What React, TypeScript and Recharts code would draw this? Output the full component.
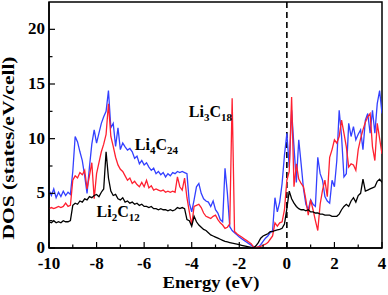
import React from "react";
import {
  LineChart,
  Line,
  XAxis,
  YAxis,
  ReferenceLine,
  ReferenceArea,
  ReferenceDot,
} from "recharts";

// energy grid (eV), 0.1 eV steps
const ENERGY = [
  -10.0, -9.9, -9.8, -9.7, -9.6, -9.5, -9.4, -9.3, -9.2, -9.1,
  -9.0, -8.9, -8.8, -8.7, -8.6, -8.5, -8.4, -8.3, -8.2, -8.1,
  -8.0, -7.9, -7.8, -7.7, -7.6, -7.5, -7.4, -7.3, -7.2, -7.1,
  -7.0, -6.9, -6.8, -6.7, -6.6, -6.5, -6.4, -6.3, -6.2, -6.1,
  -6.0, -5.9, -5.8, -5.7, -5.6, -5.5, -5.4, -5.3, -5.2, -5.1,
  -5.0, -4.9, -4.8, -4.7, -4.6, -4.5, -4.4, -4.3, -4.2, -4.1,
  -4.0, -3.9, -3.8, -3.7, -3.6, -3.5, -3.4, -3.3, -3.2, -3.1,
  -3.0, -2.9, -2.8, -2.7, -2.6, -2.5, -2.4, -2.3, -2.2, -2.1,
  -2.0, -1.9, -1.8, -1.7, -1.6, -1.5, -1.4, -1.3, -1.2, -1.1,
  -1.0, -0.9, -0.8, -0.7, -0.6, -0.5, -0.4, -0.3, -0.2, -0.1,
  0.0, 0.1, 0.2, 0.3, 0.4, 0.5, 0.6, 0.7, 0.8, 0.9,
  1.0, 1.1, 1.2, 1.3, 1.4, 1.5, 1.6, 1.7, 1.8, 1.9,
  2.0, 2.1, 2.2, 2.3, 2.4, 2.5, 2.6, 2.7, 2.8, 2.9,
  3.0, 3.1, 3.2, 3.3, 3.4, 3.5, 3.6, 3.7, 3.8, 3.9,
  4.0,
];

// Li2C12 (black)
const LI2C12 = [
  2.4, 2.3, 2.5, 2.3, 2.4, 2.3, 2.5, 2.4, 2.4, 2.5,
  3.9, 4.1, 4.0, 4.3, 4.2, 4.5, 4.4, 4.7, 4.6, 4.8,
  4.9, 4.7, 5.1, 5.4, 8.8, 6.4, 5.2, 4.8, 4.9, 4.5,
  4.4, 4.6, 4.2, 4.3, 4.1, 4.2, 4.0, 4.1, 3.9, 4.0,
  3.8, 3.8, 3.7, 3.8, 3.6, 3.6, 3.5, 3.6, 3.5, 3.5,
  3.4, 3.5, 3.4, 3.5, 3.7, 3.6, 3.7, 3.6, 2.6, 2.5,
  2.0, 2.9, 2.4, 2.1, 1.9, 1.7, 1.6, 1.4, 1.2, 1.1,
  1.0, 0.9, 0.8, 0.7, 0.6, 0.55, 0.5, 0.45, 0.4, 0.35,
  0.3, 0.25, 0.2, 0.15, 0.1, 0.05, 0.0, 0.2, 0.5, 0.9,
  1.1, 1.2, 1.3, 1.5, 1.5, 1.6, 1.65, 1.7, 1.8, 2.2,
  3.6, 5.2, 4.5, 4.1, 3.8, 3.6, 3.5, 3.5, 3.4, 3.5,
  3.3, 3.3, 3.2, 3.2, 3.1, 3.1, 3.0, 3.0, 3.0, 2.9,
  2.9, 2.9, 3.1, 3.5, 3.8, 4.0, 3.8, 4.3, 4.6, 4.2,
  4.8, 5.0, 6.3, 5.2, 5.3, 5.4, 5.5, 5.6, 6.1, 6.3,
  6.0,
];

// Li3C18 (red)
const LI3C18 = [
  3.6, 3.7, 3.6, 3.7, 3.8, 3.7, 3.8, 4.1, 3.8, 3.9,
  6.2, 6.6, 6.4, 6.9, 6.7, 7.1, 5.4, 6.6, 7.8, 4.5,
  6.8, 7.8, 8.8, 9.5, 10.4, 13.2, 10.2, 9.3, 8.3, 7.6,
  7.2, 7.0, 6.6, 6.2, 6.4, 5.9, 6.1, 5.8, 5.6, 6.0,
  5.6, 6.2, 5.5, 5.7, 5.3, 5.4, 5.3, 5.2, 5.3, 5.1,
  5.2, 5.1, 5.2, 5.1, 6.5, 5.6, 5.3, 6.4, 4.6, 3.3,
  2.1, 3.8, 3.9, 4.0, 3.7, 3.2, 2.9, 2.8, 2.7, 2.9,
  3.0, 2.6, 2.3, 2.1, 1.8, 1.9, 2.2, 13.7, 1.5, 1.3,
  1.15, 1.0, 0.85, 0.7, 0.55, 0.4, 0.1, 0.05, 0.1, 0.15,
  0.25, 0.35, 0.5, 0.8, 1.1, 2.3, 2.0, 2.3, 2.4, 3.5,
  6.2, 7.0, 13.8, 5.6, 7.7, 6.3, 5.9, 5.6, 4.4, 3.0,
  4.4, 3.5, 2.5, 1.6, 4.0, 5.3, 6.2, 4.7, 8.3, 9.0,
  9.9, 9.6, 10.2, 11.7, 10.5, 9.25, 7.4, 7.7, 7.6, 7.1,
  9.0, 10.0, 10.8, 11.5, 12.0, 12.3, 9.25, 8.0, 11.4, 10.0,
  8.6,
];

// Li4C24 (blue)
const LI4C24 = [
  5.3, 4.8, 5.4, 4.6, 5.1, 4.7, 5.2, 4.8, 5.1, 4.9,
  7.0, 10.2, 9.7, 8.8, 8.0, 6.6, 5.0, 7.4, 9.5, 10.8,
  9.6, 10.5, 11.4, 12.0, 12.5, 14.4, 11.0, 11.4, 9.3, 11.0,
  9.0, 9.6, 9.25, 8.95, 9.1, 8.8, 8.2, 8.4, 7.7, 8.0,
  7.6, 7.8, 7.4, 7.1, 7.3, 6.8, 7.0, 6.7, 6.9, 6.5,
  6.8, 6.6, 6.9, 6.8, 7.0, 6.9, 7.0, 6.9, 6.8, 4.1,
  3.3, 4.4, 5.6, 5.9, 5.0, 4.5, 4.3, 4.2, 3.8, 4.3,
  3.5, 3.2, 2.6, 2.4, 7.3, 5.0, 1.95, 1.6, 1.4, 1.2,
  1.0, 0.85, 0.7, 0.55, 0.4, 0.25, 0.1, 0.0, 0.1, 0.3,
  0.6, 0.9, 1.1, 1.4, 1.6, 4.6, 3.3, 4.2, 5.9, 8.5,
  10.5, 7.4, 12.6, 9.25, 6.0, 9.9, 7.7, 5.4, 4.0, 3.5,
  4.4, 4.0, 3.8, 8.3, 6.8, 6.2, 4.7, 4.3, 4.1, 6.2,
  5.6, 8.0, 12.6, 10.2, 6.5, 6.8, 11.4, 10.2, 11.1, 9.9,
  10.4, 10.8, 9.0, 11.7, 12.3, 10.5, 12.6, 10.5, 13.2, 14.4,
  12.3,
];

const X_TICKS = [-10, -9, -8, -7, -6, -5, -4, -3, -2, -1, 0, 1, 2, 3, 4];
const Y_TICKS = [0, 2.5, 5, 7.5, 10, 12.5, 15, 17.5, 20];

const TEXT_STYLE = {
  fontFamily: '"Liberation Serif", "Times New Roman", "DejaVu Serif", serif',
  fontWeight: 700,
};
const BLUE = "#3340ff";
const RED = "#ff2030";

const data = ENERGY.map((e, i) => ({
  energy: e,
  li2c12: LI2C12[i],
  li3c18: LI3C18[i],
  li4c24: LI4C24[i],
}));

function XTick({ x, y, payload }: any) {
  const major = payload.value % 2 === 0;
  return (
    <g>
      <line x1={x} x2={x} y1={y} y2={y - (major ? 6 : 3.5)} stroke="#000" strokeWidth={1.2} />
      {major && (
        <text x={x} y={y + 21} textAnchor="middle" style={{ ...TEXT_STYLE, fontSize: 17 }} fill="#000">
          {payload.value}
        </text>
      )}
    </g>
  );
}

function YTick({ x, y, payload }: any) {
  const major = payload.value % 5 === 0;
  return (
    <g>
      <line x1={x} x2={x + (major ? 6 : 3.5)} y1={y} y2={y} stroke="#000" strokeWidth={1.2} />
      {major && (
        <text x={x - 4} y={y + 5} textAnchor="end" style={{ ...TEXT_STYLE, fontSize: 17 }} fill="#000">
          {payload.value}
        </text>
      )}
    </g>
  );
}

// chemical formula label, e.g. Li4C24 with subscripts
function Formula({ viewBox, a, b }: any) {
  const { x, y } = viewBox;
  return (
    <text x={x} y={y} style={{ ...TEXT_STYLE, fontSize: 16 }} fill="#000">
      Li
      <tspan style={{ fontSize: 11 }} dy={4}>{a}</tspan>
      <tspan dy={-4}>C</tspan>
      <tspan style={{ fontSize: 11 }} dy={4}>{b}</tspan>
    </text>
  );
}

export default function App() {
  return (
    <div style={{ position: "absolute", left: 0, top: 0, background: "#fff" }}>
      <LineChart width={388} height={295} data={data} margin={{ top: 2, right: 6, left: 0, bottom: 0 }}>
        <XAxis
          dataKey="energy"
          type="number"
          domain={[-10, 4]}
          ticks={X_TICKS}
          interval={0}
          allowDataOverflow
          tickLine={false}
          tickSize={0}
          tickMargin={0}
          height={47}
          axisLine={{ stroke: "#000", strokeWidth: 1.5 }}
          tick={<XTick />}
          label={(p: any) => {
            const vb = p.viewBox;
            return (
              <text
                x={vb.x + vb.width / 2 - 4.5}
                y={vb.y + 39.5}
                textAnchor="middle"
                style={{ ...TEXT_STYLE, fontSize: 16 }}
                textLength={97}
                lengthAdjust="spacingAndGlyphs"
                fill="#000"
              >
                Energy (eV)
              </text>
            );
          }}
        />
        <YAxis
          type="number"
          domain={[0, 22.5]}
          ticks={Y_TICKS}
          interval={0}
          allowDataOverflow
          tickLine={false}
          tickSize={0}
          tickMargin={0}
          width={49}
          axisLine={{ stroke: "#000", strokeWidth: 1.5 }}
          tick={<YTick />}
          label={(p: any) => {
            const vb = p.viewBox;
            const cx = vb.x + 13.5;
            const cy = vb.y + vb.height / 2 + 23;
            return (
              <text
                x={cx}
                y={cy}
                transform={`rotate(-90, ${cx}, ${cy})`}
                textAnchor="middle"
                style={{ ...TEXT_STYLE, fontSize: 17 }}
                textLength={183}
                lengthAdjust="spacingAndGlyphs"
                fill="#000"
              >
                DOS (states/eV/cell)
              </text>
            );
          }}
        />
        <ReferenceArea x1={-10} x2={4} y1={0} y2={22.5} fill="none" stroke="#000" strokeWidth={1.5} />
        <ReferenceLine x={0} stroke="#000" strokeWidth={1.6} strokeDasharray="6 4" />
        <Line dataKey="li4c24" stroke={BLUE} strokeWidth={1.3} dot={false} isAnimationActive={false} />
        <Line dataKey="li3c18" stroke={RED} strokeWidth={1.3} dot={false} isAnimationActive={false} />
        <Line dataKey="li2c12" stroke="#000" strokeWidth={1.3} dot={false} isAnimationActive={false} />
        <ReferenceDot x={-6.39} y={8.95} r={0} fill="none" stroke="none" label={(p: any) => <Formula {...p} a="4" b="24" />} />
        <ReferenceDot x={-4.12} y={11.95} r={0} fill="none" stroke="none" label={(p: any) => <Formula {...p} a="3" b="18" />} />
        <ReferenceDot x={-8.0} y={2.8} r={0} fill="none" stroke="none" label={(p: any) => <Formula {...p} a="2" b="12" />} />
      </LineChart>
    </div>
  );
}
